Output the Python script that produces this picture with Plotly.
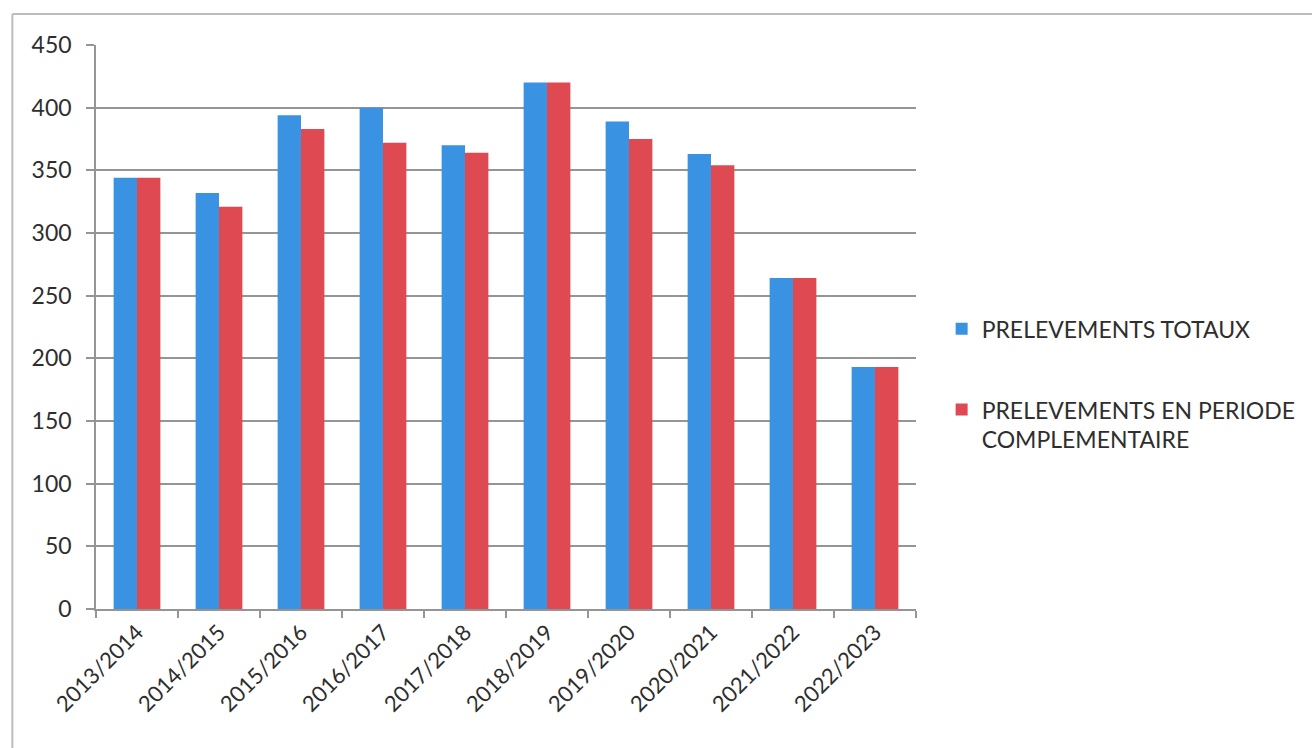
import plotly.graph_objects as go

saisons = ["2013/2014", "2014/2015", "2015/2016", "2016/2017", "2017/2018",
           "2018/2019", "2019/2020", "2020/2021", "2021/2022", "2022/2023"]
prelevements_totaux = [344, 332, 394, 400, 370, 420, 389, 363, 264, 193]
prelevements_complementaire = [344, 321, 383, 372, 364, 420, 375, 354, 264, 193]
y_ticks = [0, 50, 100, 150, 200, 250, 300, 350, 400, 450]

BLUE = "#3A92E3"
RED = "#DF4A52"
FONT = "Lato, 'Open Sans', sans-serif"
TEXT = "#2e2e2e"
GRID = "#959595"

fig = go.Figure()
fig.add_trace(go.Bar(
    x=saisons, y=prelevements_totaux, name="PRELEVEMENTS TOTAUX",
    marker=dict(color=BLUE, line=dict(width=0)), legendgroup="a",
))
fig.add_trace(go.Bar(
    x=saisons, y=prelevements_complementaire,
    name="PRELEVEMENTS EN PERIODE<br>COMPLEMENTAIRE",
    marker=dict(color=RED, line=dict(width=0)), legendgroup="b",
))

fig.update_layout(
    width=1312, height=748,
    margin=dict(l=96, r=395, t=45, b=139),
    paper_bgcolor="white", plot_bgcolor="white",
    barmode="group", bargap=0.43, bargroupgap=0,
    font=dict(family=FONT, color=TEXT),
    legend=dict(
        x=1.03, y=0.535, xanchor="left", yanchor="top",
        font=dict(size=23, color=TEXT, family=FONT),
        tracegroupgap=48, itemwidth=30, traceorder="grouped",
        valign="top",
    ),
    showlegend=True,
)

fig.update_yaxes(
    range=[0, 450], tickvals=y_ticks,
    showgrid=True, gridcolor=GRID, gridwidth=1.5,
    showline=True, linecolor=GRID, linewidth=1.5,
    ticks="outside", ticklen=8, tickcolor=GRID, tickwidth=1.5,
    ticklabelstandoff=10,
    tickfont=dict(size=23, color=TEXT, family=FONT),
    zeroline=False,
)
fig.update_xaxes(
    type="category", tickangle=-45,
    showline=True, linecolor=GRID, linewidth=1.5,
    ticks="outside", ticklen=7, tickcolor=GRID, tickwidth=1.5,
    tickson="boundaries",
    tickfont=dict(size=22, color=TEXT, family=FONT),
    showgrid=False,
)

# light frame around the chart area (top and left edges)
fig.add_shape(type="line", xref="paper", yref="paper",
              x0=-0.102, x1=1.6, y0=1.055, y1=1.055,
              line=dict(color="#bdbdbd", width=2))
fig.add_shape(type="line", xref="paper", yref="paper",
              x0=-0.102, x1=-0.102, y0=-0.3, y1=1.055,
              line=dict(color="#bdbdbd", width=2))

fig.write_html("out.html")
